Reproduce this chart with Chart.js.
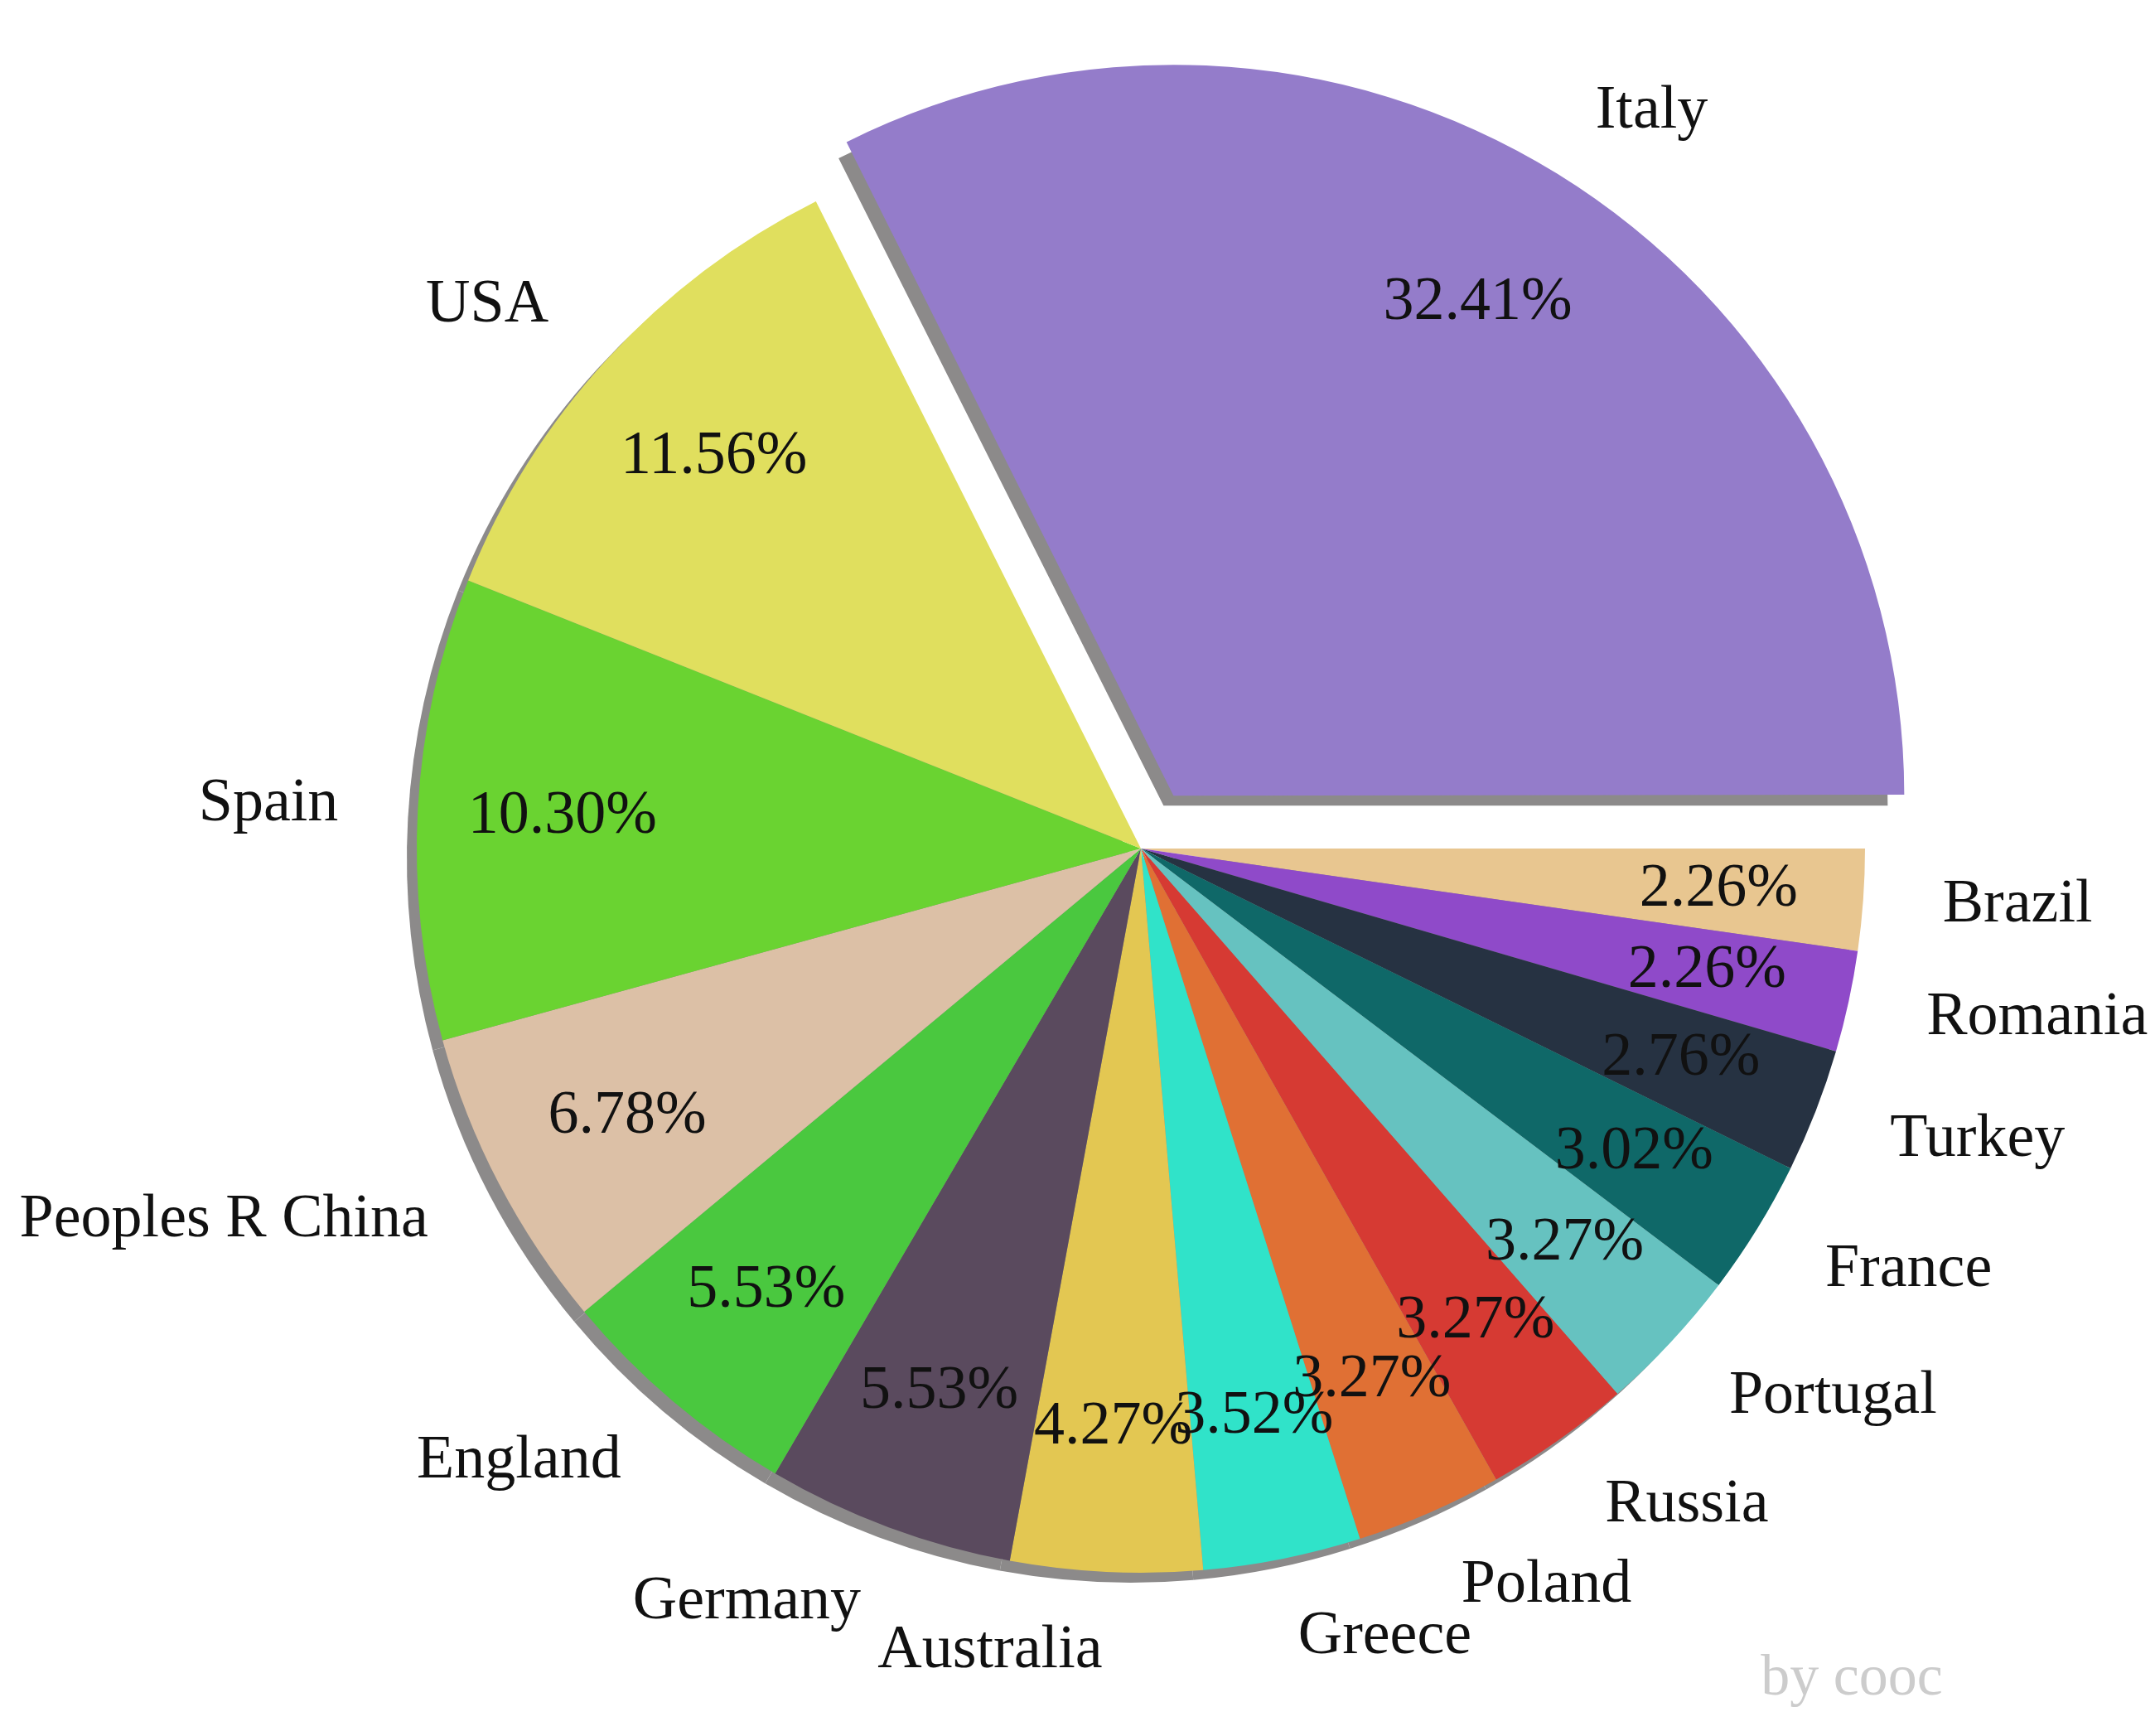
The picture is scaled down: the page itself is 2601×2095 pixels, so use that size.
<!DOCTYPE html>
<html>
<head>
<meta charset="utf-8">
<script src="https://cdn.jsdelivr.net/npm/chart.js@4"></script>
<style>
  html, body { margin: 0; padding: 0; background: #fff; }
  #wrap { width: 2601px; height: 2095px; }
</style>
</head>
<body>
<div id="wrap"><canvas id="pieChart"></canvas></div>
<script>
// order: clockwise from 3 o'clock (reverse of the picture's counter-clockwise order)
const countries = ['Brazil', 'Romania', 'Turkey', 'France', 'Portugal', 'Russia', 'Poland', 'Greece',
    'Australia', 'Germany', 'England', 'Peoples R China', 'Spain', 'USA', 'Italy'];
const shares = [2.26, 2.26, 2.76, 3.02, 3.27, 3.27, 3.27, 3.52, 4.27, 5.53, 5.53, 6.78, 10.30, 11.56, 32.41];
const colors = ['#e8c690', '#8f4ac9', '#263242', '#0f6868', '#66c2c0', '#d63a33', '#e07034', '#30e3c9',
    '#e3c752', '#5a4a5e', '#4ac83f', '#dcc0a6', '#6ad331', '#e0df5e', '#947cca'];
// Chart.js draws arcs shifted by offset / 4
const offsets = [0, 0, 0, 0, 0, 0, 0, 0, 0, 0, 0, 0, 0, 0, 300];

const FONT = '"Liberation Serif", "DejaVu Serif", serif';

function arcCenter(arc, i) {
    const mid = (arc.startAngle + arc.endAngle) / 2;
    const off = offsets[i] / 4;
    return { mid, cx: arc.x + Math.cos(mid) * off, cy: arc.y + Math.sin(mid) * off };
}

// gray drop shadow drawn under the whole pie
const shadowPlugin = {
    id: 'shadow',
    beforeDatasetsDraw(chart) {
        const ctx = chart.ctx;
        const meta = chart.getDatasetMeta(0);
        ctx.save();
        ctx.fillStyle = '#8c8a8a';
        meta.data.forEach((arc, i) => {
            const c = arcCenter(arc, i);
            const cx = c.cx - 12, cy = c.cy + 12;
            ctx.beginPath();
            ctx.moveTo(cx, cy);
            ctx.arc(cx, cy, arc.outerRadius, arc.startAngle, arc.endAngle);
            ctx.closePath();
            ctx.fill();
        });
        ctx.restore();
    }
};

const labelPlugin = {
    id: 'labels',
    afterDatasetsDraw(chart) {
        const ctx = chart.ctx;
        const meta = chart.getDatasetMeta(0);
        ctx.save();
        ctx.textBaseline = 'middle';
        ctx.font = '74px ' + FONT;
        meta.data.forEach((arc, i) => {
            const c = arcCenter(arc, i);
            const r = arc.outerRadius;
            const cos = Math.cos(c.mid), sin = Math.sin(c.mid);
            ctx.fillStyle = '#111';
            ctx.textAlign = 'center';
            ctx.fillText(shares[i].toFixed(2) + '%', c.cx + cos * r * 0.8, c.cy + sin * r * 0.8);
            ctx.textAlign = cos < 0 ? 'right' : 'left';
            ctx.fillText(countries[i], c.cx + cos * r * 1.11, c.cy + sin * r * 1.11);
        });
        ctx.fillStyle = '#cccccc';
        ctx.textAlign = 'center';
        ctx.font = '70px ' + FONT;
        ctx.fillText('by cooc', 2235, 2027);
        ctx.restore();
    }
};

new Chart(document.getElementById('pieChart'), {
    type: 'pie',
    data: {
        labels: countries,
        datasets: [{
            data: shares,
            backgroundColor: colors,
            offset: offsets,
            hoverOffset: 0,
            borderWidth: 0
        }]
    },
    options: {
        responsive: true,
        maintainAspectRatio: false,
        animation: false,
        rotation: 90,
        radius: 874,
        layout: { padding: { left: 153, right: 0, top: 0, bottom: 47 } },
        plugins: {
            legend: { display: false },
            tooltip: { enabled: false }
        }
    },
    plugins: [shadowPlugin, labelPlugin]
});
</script>
</body>
</html>
